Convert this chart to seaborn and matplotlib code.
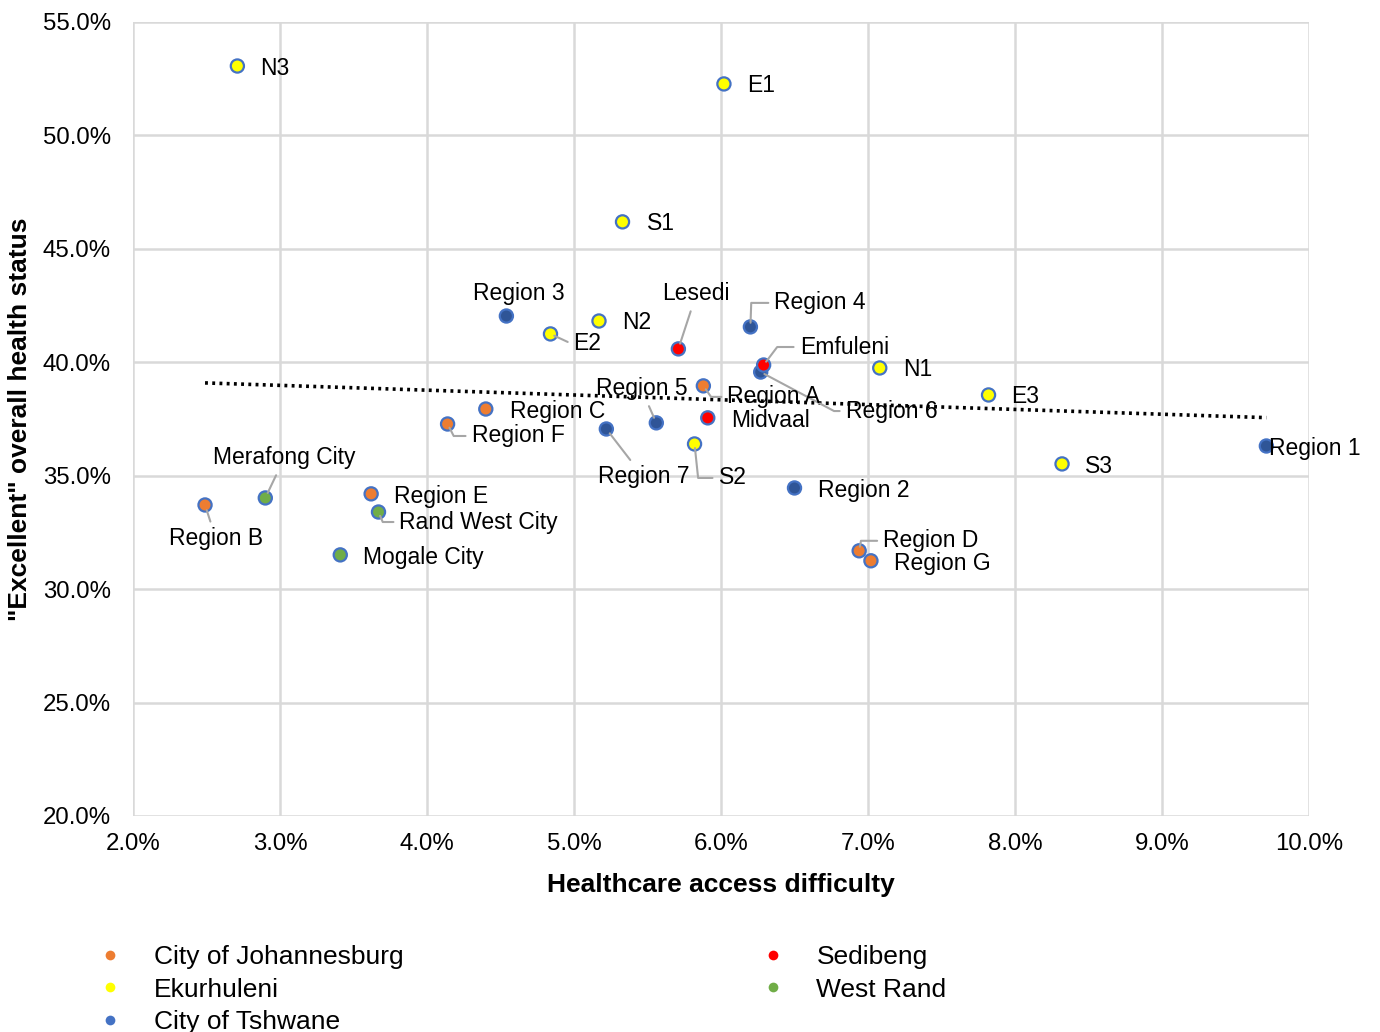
import numpy as np
import pandas as pd
import seaborn as sns
import matplotlib
matplotlib.use('Agg')
import matplotlib.pyplot as plt
from matplotlib.lines import Line2D
from matplotlib.ticker import FuncFormatter

# values (percent)
names = ['N3', 'E1', 'S1', 'Region 3', 'E2', 'N2', 'Lesedi', 'Region 4', 'Region 6',
         'Emfuleni', 'Region A', 'N1', 'E3', 'Region C', 'Region F', 'Region 5', 'Midvaal',
         'Region 7', 'S2', 'Region 1', 'S3', 'Region 2', 'Region B', 'Merafong City',
         'Region E', 'Rand West City', 'Mogale City', 'Region D', 'Region G']
access = [2.71, 6.02, 5.33, 4.54, 4.84, 5.17, 5.71, 6.20, 6.27,
          6.29, 5.88, 7.08, 7.82, 4.40, 4.14, 5.56, 5.91,
          5.22, 5.82, 9.71, 8.32, 6.50, 2.49, 2.90,
          3.62, 3.67, 3.41, 6.94, 7.02]
excellent = [53.06, 52.27, 46.19, 42.04, 41.25, 41.82, 40.59, 41.56, 39.57,
             39.88, 38.96, 39.75, 38.56, 37.94, 37.28, 37.33, 37.55,
             37.06, 36.40, 36.31, 35.52, 34.46, 33.71, 34.02,
             34.20, 33.40, 31.51, 31.69, 31.25]
region = ['Ekurhuleni', 'Ekurhuleni', 'Ekurhuleni', 'City of Tshwane', 'Ekurhuleni', 'Ekurhuleni',
          'Sedibeng', 'City of Tshwane', 'City of Tshwane', 'Sedibeng', 'City of Johannesburg',
          'Ekurhuleni', 'Ekurhuleni', 'City of Johannesburg', 'City of Johannesburg',
          'City of Tshwane', 'Sedibeng', 'City of Tshwane', 'Ekurhuleni', 'City of Tshwane',
          'Ekurhuleni', 'City of Tshwane', 'City of Johannesburg', 'West Rand',
          'City of Johannesburg', 'West Rand', 'West Rand', 'City of Johannesburg',
          'City of Johannesburg']
groups = ['City of Johannesburg', 'Ekurhuleni', 'City of Tshwane', 'Sedibeng', 'West Rand']
fill_colors = ['#ED7D31', '#FFFF00', '#2F5597', '#FF0000', '#70AD47']
legend_colors = ['#ED7D31', '#FFFF00', '#4472C4', '#FF0000', '#70AD47']

# label placement: offset in pixels from point, alignment, leader (None / 'line' / elbow angle at point)
label_pos = {
    'N3': (23, 0, 'left', None), 'E1': (23, 0, 'left', None), 'S1': (24, 0, 'left', None),
    'Region 3': (12, 25, 'center', None), 'E2': (23, -8, 'left', -25),
    'N2': (23, 0, 'left', None), 'Lesedi': (18, 57, 'center', 'line'),
    'Region 4': (24, 26, 'left', 88), 'Emfuleni': (36, 20, 'left', 53),
    'Region 6': (85, -37, 'left', -28), 'Region A': (24, -9, 'left', -55),
    'N1': (23, 0, 'left', None), 'E3': (23, 0, 'left', None), 'Region C': (24, 0, 'left', None),
    'Region F': (24, -10, 'left', -63), 'Region 5': (-15, 36, 'center', 'line'),
    'Midvaal': (23, -1, 'left', None), 'Region 7': (37, -46, 'center', 'line'),
    'S2': (24, -32, 'left', -84), 'Region 1': (3, -1, 'left', None),
    'S3': (23, -1, 'left', None), 'Region 2': (23, -1, 'left', None),
    'Region B': (11, -32, 'center', 'line'), 'Merafong City': (19, 42, 'center', 'line'),
    'Region E': (23, -1, 'left', None), 'Rand West City': (21, -8, 'left', -67),
    'Mogale City': (23, -1, 'left', None), 'Region D': (24, 12, 'left', 80),
    'Region G': (23, -1, 'left', None),
}

df = pd.DataFrame({'name': names, 'access': access, 'excellent': excellent, 'region': region})

sns.set_style('white')
plt.rcParams['font.family'] = ['Liberation Sans', 'DejaVu Sans']
plt.rcParams['text.color'] = 'black'
plt.rcParams['axes.labelcolor'] = 'black'

fig = plt.figure(figsize=(13.8, 10.32), dpi=100)
ax = fig.add_axes([133 / 1380, 1 - 816 / 1032, (1309 - 133) / 1380, (816 - 22) / 1032])

sns.scatterplot(data=df, x='access', y='excellent', hue='region', hue_order=groups,
                palette=dict(zip(groups, fill_colors)), s=90, edgecolor='#4472C4',
                linewidth=1.6, legend=False, ax=ax, zorder=3)

# linear trendline
coef = np.polyfit(df['access'], df['excellent'], 1)
tx = np.array([df['access'].min(), df['access'].max()])
ax.plot(tx, np.polyval(coef, tx), color='black', linestyle=(0, (0.8, 1.2)), linewidth=2.6, zorder=2)

for _, row in df.iterrows():
    dx, dy, ha, leader = label_pos[row['name']]
    arrow = None
    if leader == 'line':
        arrow = dict(arrowstyle='-', color='#A6A6A6', lw=1.5, shrinkA=2, shrinkB=4)
    elif leader is not None:
        arrow = dict(arrowstyle='-', color='#A6A6A6', lw=1.5, shrinkA=2, shrinkB=3,
                     connectionstyle=f'angle,angleA=0,angleB={leader},rad=0')
    ax.annotate(row['name'], (row['access'], row['excellent']), xytext=(dx, dy - 2),
                textcoords='offset pixels', ha=ha, va='center', fontsize=16.5,
                arrowprops=arrow, zorder=4)

ax.set_xlim(2, 10)
ax.set_ylim(20, 55)
ax.set_xticks(np.arange(2, 10.01, 1))
ax.set_yticks(np.arange(20, 55.01, 5))
ax.xaxis.set_major_formatter(FuncFormatter(lambda v, p: f'{v:.1f}%'))
ax.yaxis.set_major_formatter(FuncFormatter(lambda v, p: f'{v:.1f}%'))
ax.grid(True, color='#D9D9D9', linewidth=1.8)
ax.set_axisbelow(True)
for sp in ax.spines.values():
    sp.set_visible(False)
ax.tick_params(axis='both', length=0, labelsize=17.3, colors='black')
ax.tick_params(axis='x', pad=12)
ax.tick_params(axis='y', pad=16)
ax.set_xlabel('Healthcare access difficulty', fontsize=19, fontweight='bold', labelpad=13)
ax.set_ylabel('"Excellent" overall health status', fontsize=19, fontweight='bold', labelpad=8)

handles = [Line2D([], [], marker='o', linestyle='', markersize=7, markerfacecolor=c,
                  markeredgewidth=0) for c in legend_colors]
fig.legend(handles, groups, loc='upper left', bbox_to_anchor=(97 / 1380, 1 - 945 / 1032),
           ncol=2, frameon=False, fontsize=19, handlelength=1.0, handletextpad=1.15,
           columnspacing=13.5, labelspacing=0.33, borderpad=0, borderaxespad=0)

fig.savefig('out.png', dpi=100)
